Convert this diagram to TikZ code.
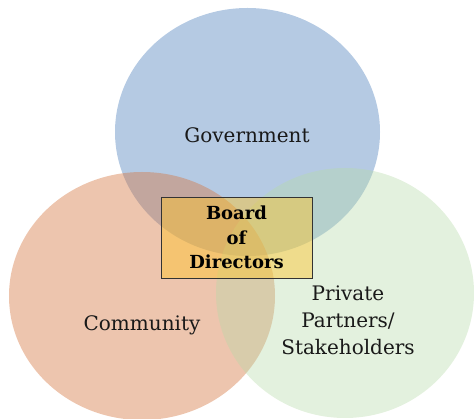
\documentclass[tikz,border=0pt]{standalone}
\usepackage{fontspec}
\setmainfont{DejaVu Serif}
\definecolor{cblue}{RGB}{79,129,189}
\definecolor{corange}{RGB}{212,117,62}
\definecolor{cgreen}{RGB}{182,217,167}
\definecolor{cbox}{RGB}{255,196,40}
\begin{document}
\begin{tikzpicture}[x=1pt,y=-1pt,
  venn/.style={fill opacity=0.42,draw=none},
  lbl/.style={font=\fontsize{20}{27}\selectfont,align=center,text=black!90},
  boardbox/.style={draw=black!80,line width=0.8pt,fill=cbox,fill opacity=0.45,text opacity=1,
    minimum width=151pt,minimum height=81pt,align=center,inner sep=0pt,
    font=\bfseries\fontsize{18}{24.5}\selectfont}]
\useasboundingbox (0,0) rectangle (474,419);
\fill[venn,cblue] (247.5,132) ellipse [x radius=132.5,y radius=124];
\fill[venn,corange] (142,296) ellipse [x radius=133,y radius=124];
\fill[venn,cgreen,fill opacity=0.38] (345,293) ellipse [x radius=129,y radius=125];
\node[lbl] (gov) at (247,135) {Government};
\node[lbl] (com) at (142,325) {Community};
\node[lbl] (priv) at (348,320) {Private\\Partners/\\Stakeholders};
\node[boardbox] (board) at (236.5,237.5) {Board\\of\\Directors};
\end{tikzpicture}
\end{document}
